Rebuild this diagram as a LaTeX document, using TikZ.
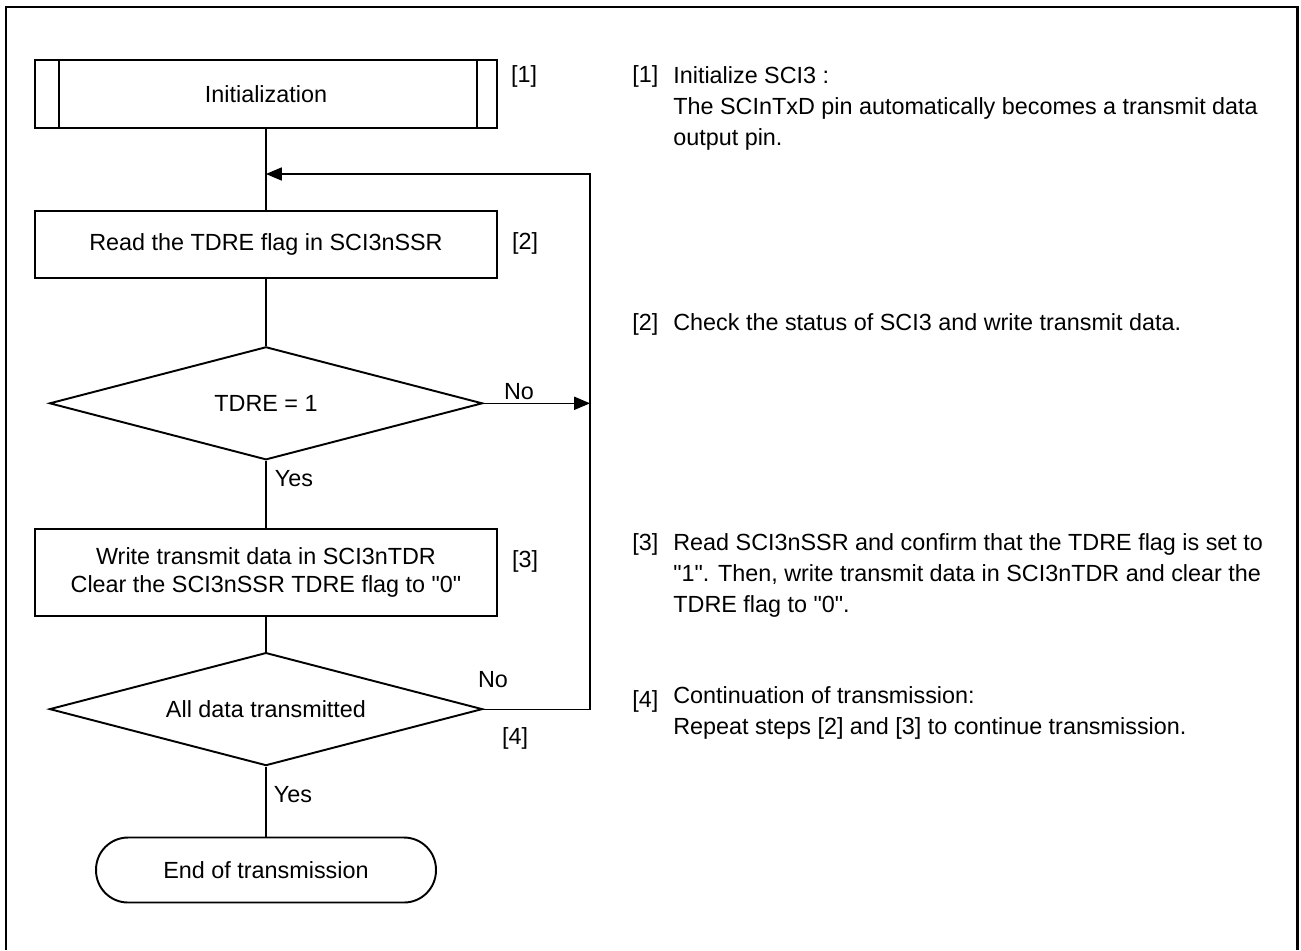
\documentclass[tikz,border=0pt]{standalone}
\usepackage{fontspec}
\setmainfont{Liberation Sans}[Ligatures=TeXOff]
\usetikzlibrary{positioning,shapes.geometric,arrows.meta}

\begin{document}
\begin{tikzpicture}[x=0.02cm, y=-0.02cm, node distance=1.34cm,
    every node/.style={font=\fontsize{13.3}{16}\selectfont}]
    \tikzstyle{procbox}=[draw, line width=1.1pt, align=center,
                         minimum width=9.24cm, minimum height=1.36cm]
    \tikzstyle{decision}=[draw, diamond, aspect=3.8, line width=1.1pt, inner sep=0pt,
                          minimum width=8.66cm, minimum height=2.26cm]
    \tikzstyle{endbox}=[draw, rounded corners=0.64cm, line width=1.1pt,
                        minimum width=6.8cm, minimum height=1.3cm]
    \tikzstyle{conn}=[line width=0.6pt]
    \tikzstyle{backarrow}=[-{Triangle[length=9pt, width=7.5pt]}]
    \tikzstyle{desc}=[align=left, inner sep=0pt, anchor=north west,
                      font=\fontsize{13.3}{17.6}\selectfont]
    \tikzstyle{tag}=[inner sep=0pt, anchor=base west]

    \useasboundingbox (0,0) rectangle (1301,950);
    \draw[line width=1.7pt] (6,950) -- (6,7) -- (1297,7) -- (1297,950);

    % flow chart
    \node[procbox] (init) at (266,94) {Initialization};
    \draw[line width=1.1pt] ([xshift=0.5cm]init.north west) -- ([xshift=0.5cm]init.south west);
    \draw[line width=1.1pt] ([xshift=-0.42cm]init.north east) -- ([xshift=-0.42cm]init.south east);
    \node[procbox, minimum height=1.34cm, below=1.62cm of init] (read) {Read the TDRE flag in SCI3nSSR};
    \node[decision, below=of read] (tdre) {TDRE = 1};
    \node[procbox, minimum height=1.74cm, below=of tdre] (write) {Write transmit data in SCI3nTDR\\ Clear the SCI3nSSR TDRE flag to "0"};
    \node[decision, below=0.70cm of write] (done) {All data transmitted};
    \node[endbox, below=1.40cm of done] (endt) {End of transmission};

    \node (s1) at (524,76) {[1]};
    \node (s2) at (525,243) {[2]};
    \node (s3) at (525,561) {[3]};
    \node (s4) at (515,738) {[4]};
    \node (no1) at (519,392) {No};
    \node (no2) at (493,680) {No};
    \node (yes1) at (294,479) {Yes};
    \node (yes2) at (293,795) {Yes};

    \coordinate (back) at (590,174);
    \draw[conn] (init) -- (read);
    \draw[conn] (read) -- (tdre);
    \draw[conn] (tdre) -- (write);
    \draw[conn] (write) -- (done);
    \draw[conn] (done) -- (endt);
    \draw[conn, backarrow] (tdre.east) -- (tdre.east -| back);
    \draw[conn, backarrow] (done.east) -| (back) -- (back -| init.south);

    % notes
    \node[tag] (t1) at (632,82) {[1]};
    \node[desc] (d1) at (673,66) {Initialize SCI3 :\\The SCInTxD pin automatically becomes a transmit data\\output pin.};
    \node[tag] (t2) at (632,330) {[2]};
    \node[tag] (d2) at (673,330) {Check the status of SCI3 and write transmit data.};
    \node[tag] (t3) at (632,550) {[3]};
    \node[desc] (d3) at (673,533) {Read SCI3nSSR and confirm that the TDRE flag is set to\\"1". Then, write transmit data in SCI3nTDR and clear the\\TDRE flag to "0".};
    \node[tag] (t4) at (632,707) {[4]};
    \node[desc] (d4) at (673,686) {Continuation of transmission:\\Repeat steps [2] and [3] to continue transmission.};
\end{tikzpicture}
\end{document}
